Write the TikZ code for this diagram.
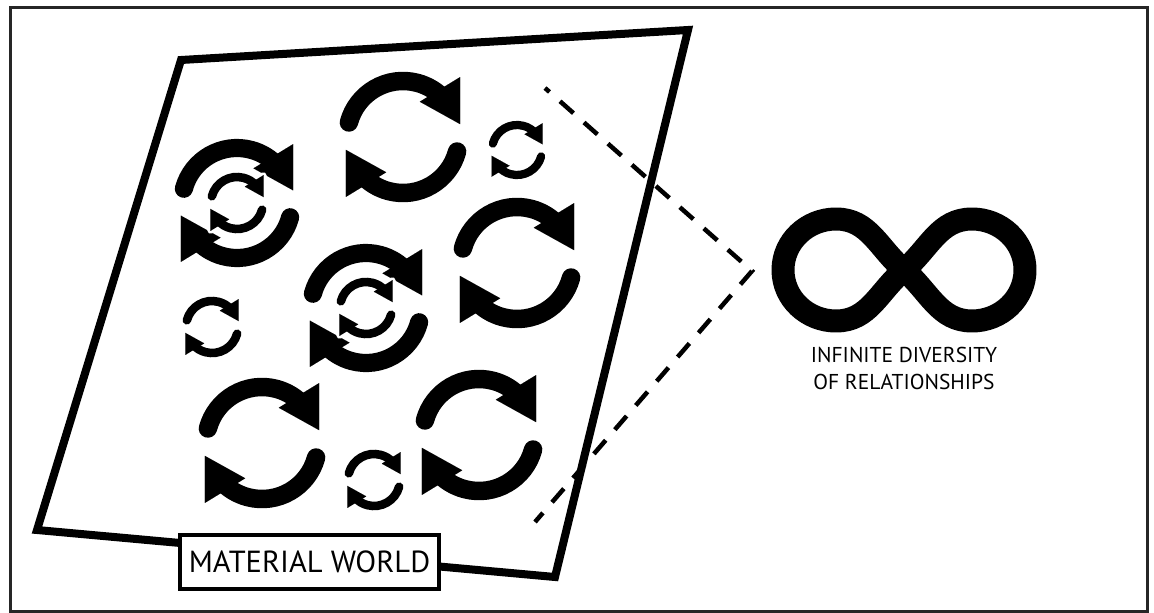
\documentclass[tikz,border=0pt]{standalone}
\usepackage{fontspec}
\setmainfont{PT Sans}
\tikzset{
  frame/.style={draw=black!85, line width=3pt},
  world/.style={draw=black, line width=8pt, line join=miter},
  label box/.style={draw=black, line width=4pt, fill=white, minimum width=259pt, minimum height=54pt, inner sep=0pt, font=\fontsize{30.5}{30.5}\selectfont},
  link/.style={draw=black, line width=4.5pt, dash pattern=on 18pt off 14pt, dash phase=12pt, line join=miter},
  infinity/.style={draw=black, line width=23pt, line join=round},
  caption/.style={align=center, inner sep=0pt, font=\fontsize{21.5}{27}\selectfont},
}
\newcommand\drawicon[3]{%
  \draw[#1, line width=#2pt, line cap=round] (195:\rr) arc[start angle=195, end angle=318, radius=\rr];
  \draw[#1, line width=#2pt, line cap=round] (15:\rr) arc[start angle=15, end angle=138, radius=\rr];
  \filldraw[#1, line width=#3pt, line join=round] (1.02*\rr,-1.07*\rr) -- (1.02*\rr,-0.23*\rr) -- (0.30*\rr,-0.63*\rr) -- cycle;
  \filldraw[#1, line width=#3pt, line join=round] (-1.02*\rr,1.07*\rr) -- (-1.02*\rr,0.23*\rr) -- (-0.30*\rr,0.63*\rr) -- cycle;}
\newcommand\refreshicon[4]{%
  \begin{scope}[shift={(#1,#2)}]
    \pgfmathsetmacro\rr{#3}
    \pgfmathsetmacro\ww{0.33*#3}
    \ifnum#4>0
      \pgfmathsetmacro\wh{0.33*#3+2*#4}
      \pgfmathsetmacro\th{2*#4}
      \drawicon{white}{\wh}{\th}
    \fi
    \drawicon{black}{\ww}{0.01}
  \end{scope}}
\begin{document}
\begin{tikzpicture}[x=1pt, y=1pt, yscale=-1]
\useasboundingbox (0,0) rectangle (1154,613);
\fill[white] (0,0) rectangle (1154,613);
\draw[frame] (10,7) rectangle (1147,611);
% material world
\coordinate (w1) at (181,60);
\coordinate (w2) at (688,30);
\coordinate (w3) at (555,577);
\coordinate (w4) at (37,530);
\draw[world] (w1) -- (w2) -- (w3) -- (w4) -- cycle;
% cycles
\refreshicon{237}{203}{55}{0}
\refreshicon{237}{203}{26}{3}
\refreshicon{403}{137}{56}{0}
\refreshicon{517}{150}{25}{0}
\refreshicon{517}{263}{56}{0}
\refreshicon{366}{308}{55}{0}
\refreshicon{366}{308}{26}{3}
\refreshicon{212}{327}{26}{0}
\refreshicon{262}{443}{56}{0}
\refreshicon{374}{480}{26}{0}
\refreshicon{479}{435}{56}{0}
% dashed link
\coordinate (d1) at (545,88);
\coordinate (d2) at (752,271);
\coordinate (d3) at (535,522);
\draw[link] (d1) -- (d2) -- (d3);
% label
\node[label box] (mw) at (309.5,562) {MATERIAL WORLD};
% infinity
\begin{scope}[shift={(904,270)}]
\coordinate (ic) at (0,0);
\draw[infinity] (ic) to[out=40,in=180] (68,51) to[out=0,in=90] (121,0) to[out=-90,in=0] (68,-51) to[out=180,in=-40] (ic) to[out=140,in=0] (-68,51) to[out=180,in=90] (-121,0) to[out=-90,in=180] (-68,-51) to[out=0,in=220] cycle;
\end{scope}
\node[caption] (cap) at (904,368) {INFINITE DIVERSITY\\OF RELATIONSHIPS};
\end{tikzpicture}
\end{document}
